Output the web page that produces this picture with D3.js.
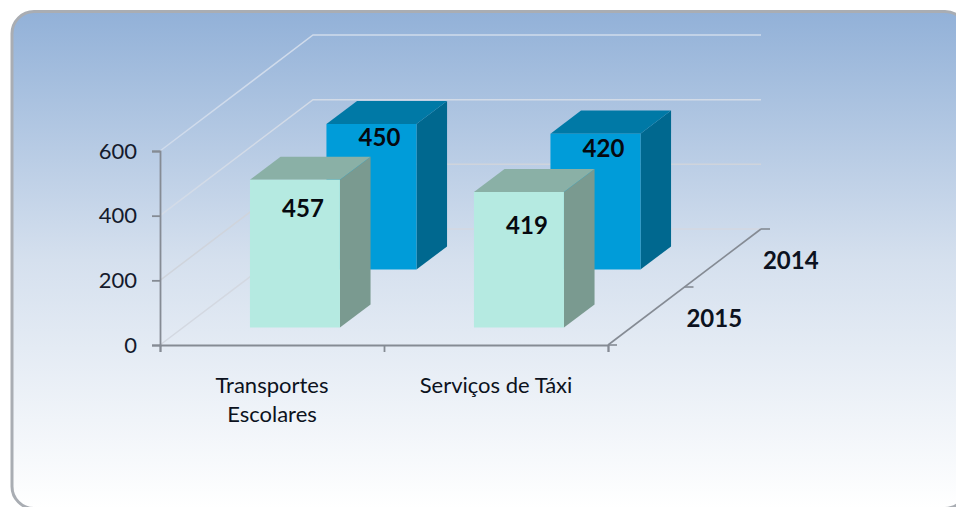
<!DOCTYPE html>
<html>
<head>
<meta charset="utf-8">
<script src="https://cdn.jsdelivr.net/npm/d3@7"></script>
<style>
  html,body{margin:0;padding:0;background:#fff;overflow:hidden}
  svg{display:block}
  text{font-family:Lato,"Open Sans",sans-serif;fill:#0c1220}
</style>
</head>
<body>
<div id="graph"></div>
<script>
// data
const categories=["Transportes Escolares","Serviços de Táxi"]
const categoryLines=[["Transportes","Escolares"],["Serviços de Táxi"]]
const years=["2015","2014"]
const values2015=[457,419]
const values2014=[450,420]
const yTicks=[0,200,400,600]

const width=956,height=507

// back row first so the front row paints over it
const series=[
  {year:"2014",values:values2014},
  {year:"2015",values:values2015}
]
const colors={
  "2014":{face:"#009cd9",top:"#0079a6",side:"#00688f"},
  "2015":{face:"#b5eae1",top:"#8ab0a6",side:"#7a9a90"}
}
// value labels are not placed the same way on each bar in the original
const labelOffset={"2014":[22,23],"2015":[37,42]}
const gridColors={0:"#d3d8e1",200:"#cfd4dc",400:"#d3dbe7",600:"#d0dbeb"}

const svg=d3.select("#graph").append("svg").attr("width",width).attr("height",height)

// background panel, runs off the right and bottom of the picture
const grad=svg.append("defs").append("linearGradient")
  .attr("id","bg").attr("x1",0).attr("y1",0).attr("x2",0).attr("y2",1)
grad.append("stop").attr("offset","0%").attr("stop-color","#92b1d8")
grad.append("stop").attr("offset","50%").attr("stop-color","#d5e0ee")
grad.append("stop").attr("offset","100%").attr("stop-color","#ffffff")

svg.append("rect")
  .attr("x",12).attr("y",11.5).attr("width",955).attr("height",497).attr("rx",22)
  .attr("fill","url(#bg)").attr("stroke","#a9adb3").attr("stroke-width",3)

// scales
const x0=160,x1=608,yBase=345,yTop=151
const depthX=153,depthY=-116  // the skew of the 3d box

const xScale=d3.scaleBand().domain(categories).range([x0,x1])
const xTicks=d3.scaleLinear().domain([0,2]).range([x0,x1])
const yScale=d3.scaleLinear().domain([0,600]).range([yBase,yTop])
const zScale=d3.scaleBand().domain(years).range([0,1])

const barW=90,barD=0.2

// projects category px, value, depth fraction to the screen
const project=(px,v,z)=>[px+z*depthX,yScale(v)+z*depthY]
const pts=a=>a.map(p=>p.join(",")).join(" ")

// walls
const grid=svg.append("g").attr("fill","none").attr("stroke-width",1.5)
yTicks.forEach(t=>{
  grid.append("polyline")
    .attr("stroke",gridColors[t])
    .attr("points",pts([project(x0,t,0),project(x0,t,1),project(x1,t,1)]))
})

// axes
const axisColor="#858b94"
const yAxis=d3.axisLeft(yScale).tickValues(yTicks).tickSize(8).tickPadding(15)
const yG=svg.append("g").attr("transform",`translate(${x0},0)`).call(yAxis)
yG.selectAll("text").style("font-size","22px").style("fill","#141a2c")

const xAxis=d3.axisBottom(xTicks).ticks(2).tickSize(7).tickFormat("")
const xG=svg.append("g").attr("transform",`translate(0,${yBase})`).call(xAxis)
;[yG,xG].forEach(g=>{
  g.selectAll("path,line").attr("stroke",axisColor).attr("stroke-width",1.8)
})

// depth axis
const depthG=svg.append("g").attr("stroke",axisColor).attr("stroke-width",1.6)
depthG.append("line")
  .attr("x1",project(x1,0,0)[0]).attr("y1",project(x1,0,0)[1])
  .attr("x2",project(x1,0,1)[0]).attr("y2",project(x1,0,1)[1])
;[0,0.5,1].forEach(z=>{
  const p=project(x1,0,z)
  depthG.append("line").attr("x1",p[0]).attr("y1",p[1]).attr("x2",p[0]+9).attr("y2",p[1])
})
svg.selectAll(".yearLabel").data(years).enter().append("text")
  .attr("class","yearLabel")
  .attr("x",d=>project(x1,0,zScale(d)+zScale.bandwidth()/2)[0]+68)
  .attr("y",d=>project(x1,0,zScale(d)+zScale.bandwidth()/2)[1]+11)
  .attr("text-anchor","middle")
  .style("font-size","24px").style("font-weight","700")
  .text(d=>d)

// bars, back ones first
series.forEach(s=>{
  const c=colors[s.year]
  const z=zScale(s.year)+(zScale.bandwidth()-barD)/2
  const g=svg.selectAll(".bar"+s.year).data(s.values).enter().append("g").attr("class","bar"+s.year)
  const left=i=>xScale(categories[i])+(xScale.bandwidth()-barW)/2
  g.append("polygon").attr("fill",c.side)
    .attr("points",(d,i)=>pts([project(left(i)+barW,0,z),project(left(i)+barW,d,z),project(left(i)+barW,d,z+barD),project(left(i)+barW,0,z+barD)]))
  g.append("polygon").attr("fill",c.top)
    .attr("points",(d,i)=>pts([project(left(i),d,z),project(left(i)+barW,d,z),project(left(i)+barW,d,z+barD),project(left(i),d,z+barD)]))
  g.append("polygon").attr("fill",c.face)
    .attr("points",(d,i)=>pts([project(left(i),0,z),project(left(i)+barW,0,z),project(left(i)+barW,d,z),project(left(i),d,z)]))
  g.append("text")
    .attr("x",(d,i)=>project(left(i)+barW/2,d,z)[0]+8)
    .attr("y",(d,i)=>project(left(i)+barW/2,d,z)[1]+labelOffset[s.year][i])
    .attr("text-anchor","middle")
    .style("font-size","24px").style("font-weight","700").style("fill","#06090f")
    .text(d=>d)
})

// category labels
categories.forEach((c,i)=>{
  const t=svg.append("text")
    .attr("x",xScale(c)+xScale.bandwidth()/2)
    .attr("y",393)
    .attr("text-anchor","middle")
    .style("font-size","22px")
  categoryLines[i].forEach((line,j)=>{
    t.append("tspan").attr("x",xScale(c)+xScale.bandwidth()/2).attr("dy",j?29:0).text(line)
  })
})
</script>
</body>
</html>
